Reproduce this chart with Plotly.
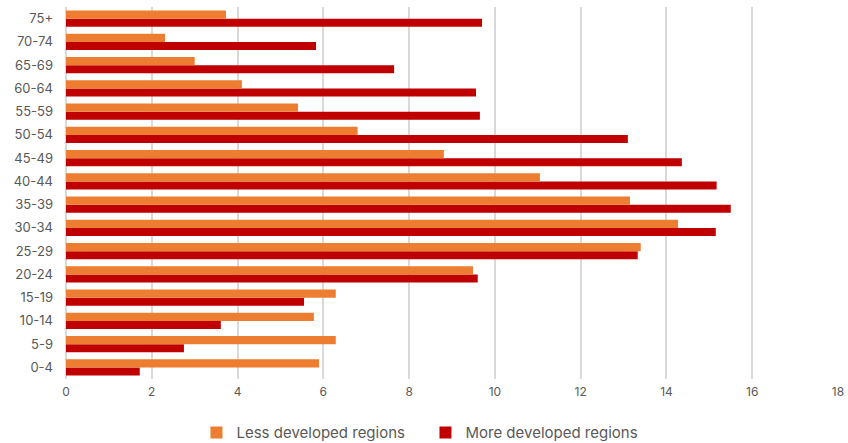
import plotly.graph_objects as go

categories = ["0-4", "5-9", "10-14", "15-19", "20-24", "25-29", "30-34", "35-39",
              "40-44", "45-49", "50-54", "55-59", "60-64", "65-69", "70-74", "75+"]
less_developed = [5.9, 6.29, 5.78, 6.29, 9.49, 13.4, 14.27, 13.15,
                  11.05, 8.81, 6.8, 5.41, 4.1, 3.0, 2.31, 3.73]
more_developed = [1.72, 2.75, 3.61, 5.55, 9.6, 13.33, 15.15, 15.5,
                  15.17, 14.36, 13.1, 9.65, 9.56, 7.65, 5.83, 9.7]
x_ticks = [0, 2, 4, 6, 8, 10, 12, 14, 16, 18]

fig = go.Figure()
fig.add_trace(go.Bar(y=categories, x=more_developed, orientation="h",
                     name="More developed regions", marker_color="#C00000",
                     marker_line_width=0, legendrank=2))
fig.add_trace(go.Bar(y=categories, x=less_developed, orientation="h",
                     name="Less developed regions", marker_color="#ED7D31",
                     marker_line_width=0, legendrank=1))

font_family = "Inter, Open Sans, sans-serif"
fig.update_layout(
    width=848, height=443,
    margin=dict(l=66, r=10, t=7, b=64, autoexpand=False),
    paper_bgcolor="white", plot_bgcolor="white",
    barmode="group", bargap=0.3, bargroupgap=0,
    font=dict(family=font_family, color="#595959", size=13),
    legend=dict(orientation="h", x=0.169, xanchor="left", y=-0.1, yanchor="top",
                font=dict(size=15, color="#595959"), traceorder="normal",
                itemwidth=30, entrywidth=184, entrywidthmode="pixels",
                tracegroupgap=0),
    showlegend=True,
)
fig.update_xaxes(range=[0, 18], tickvals=x_ticks, showgrid=True, automargin=False,
                 gridcolor="#D9D9D9", gridwidth=2, zeroline=True,
                 zerolinecolor="#D9D9D9", zerolinewidth=2,
                 tickfont=dict(size=12, color="#595959"), showline=False, ticks="",
                 ticklabelstandoff=4)
fig.update_yaxes(categoryorder="array", categoryarray=categories, showgrid=False,
                 automargin=False, tickfont=dict(size=13, color="#595959"),
                 ticks="", ticklen=0, showline=False, ticklabelstandoff=12)

fig.write_html("out.html", config={"displayModeBar": False},
               post_script="document.body.style.margin='0';document.body.style.overflow='hidden';")
